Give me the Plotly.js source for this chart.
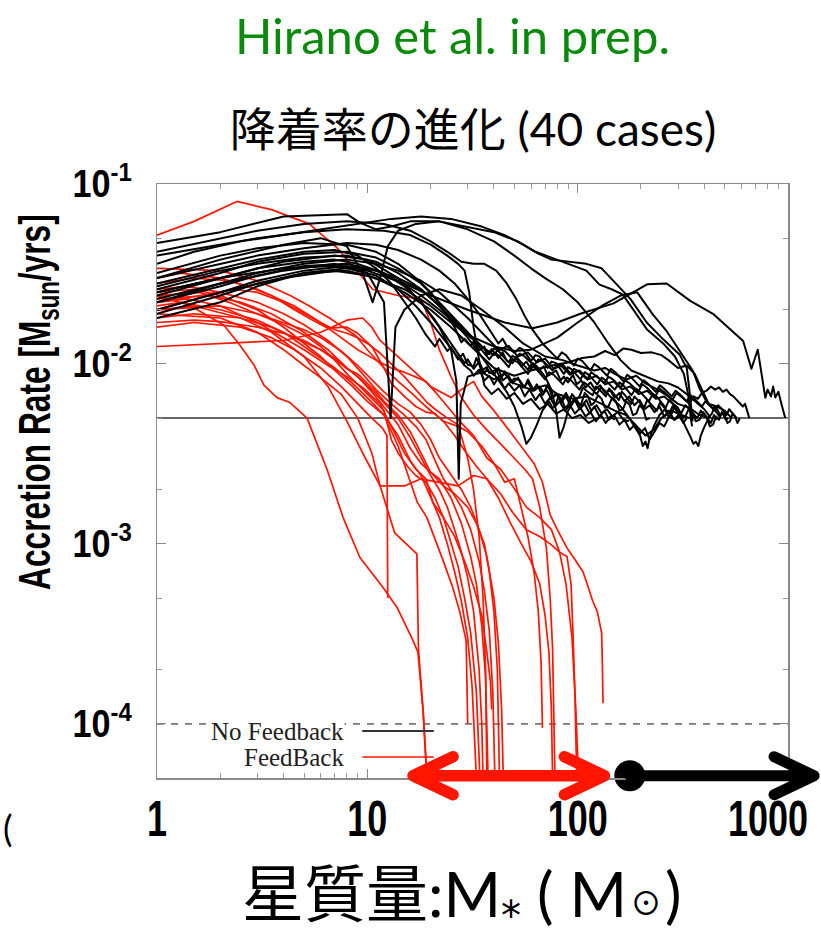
<!DOCTYPE html>
<html>
<head>
<meta charset="utf-8">
<script src="https://cdn.plot.ly/plotly-3.0.1.min.js"></script>
<style>
  html, body { margin: 0; padding: 0; background: #ffffff; }
  #chart { width: 821px; height: 931px; }
</style>
</head>
<body>
<div id="chart"></div>
<script>
// ---------------- data ----------------
// Each run: list of [stellar mass (Msun), accretion rate (Msun/yr)]
const noFeedbackRuns = [
  [[1,0.036],[1.5,0.042],[2.5,0.048],[4,0.052],[6,0.056],[9,0.06],[13,0.064],[18,0.066],[25,0.064],[35,0.058],[45,0.052],[55,0.046],[65,0.041],[75,0.038],[90,0.037],[110,0.036],[130,0.034],[148,0.029],[178,0.023],[213,0.017],[255,0.0137],[305,0.0113],[330,0.0095],[340,0.0071],[347,0.0055],[352,0.0048]],
  [[1,0.047],[2,0.054],[4,0.066],[8,0.068],[9.2,0.061],[11,0.056],[13,0.058],[16,0.062],[22,0.062],[30,0.058],[40,0.054],[52,0.048],[63,0.042],[75,0.039],[90,0.036],[110,0.033],[127,0.0276],[145,0.026],[164,0.0243],[190,0.019],[213,0.0156],[255,0.013],[290,0.011],[320,0.0088],[335,0.0068],[345,0.005],[350,0.0045]],
  [[1,0.03],[2,0.038],[4,0.046],[6,0.05],[8,0.045],[9.5,0.032],[10.6,0.022],[11.5,0.03],[12.5,0.045],[14,0.055],[17,0.06],[22,0.062],[30,0.056],[40,0.048],[50,0.04],[60,0.034],[70,0.03],[85,0.026],[100,0.022],[120,0.017],[140,0.013],[160,0.0105],[180,0.0092],[210,0.0085],[240,0.008],[270,0.0078],[300,0.0074],[330,0.0068],[360,0.0062],[400,0.0056],[430,0.005]],
  [[1,0.022],[2,0.028],[4,0.033],[7,0.036],[10,0.032],[12,0.022],[12.9,0.005],[13.6,0.016],[15,0.02],[18,0.024],[22,0.026],[28,0.024],[35,0.02],[45,0.016],[55,0.013],[70,0.011],[85,0.0105],[100,0.0098],[120,0.0092],[135,0.0095],[150,0.0088],[170,0.0082],[190,0.0086],[210,0.0078],[240,0.0072],[270,0.0066],[300,0.006],[340,0.0057],[380,0.0052],[420,0.005]],
  [[1,0.025],[2,0.03],[4,0.037],[7,0.04],[10,0.038],[14,0.03],[18,0.022],[22,0.016],[25,0.012],[26.5,0.008],[27.2,0.0023],[27.8,0.006],[30,0.0085],[35,0.009],[40,0.0082],[45,0.0088],[50,0.0078],[60,0.0072],[70,0.0076],[80,0.0068],[95,0.0064],[110,0.0066],[130,0.006],[150,0.0055],[170,0.0052],[190,0.0045],[210,0.004],[230,0.0043],[250,0.005],[280,0.0055],[310,0.0052],[340,0.005]],
  [[1,0.025],[2,0.03],[4,0.034],[7,0.035],[10,0.033],[15,0.028],[20,0.024],[30,0.02],[45,0.017],[61,0.0158],[80,0.017],[103,0.019],[148,0.0217],[214,0.0277],[265,0.028],[343,0.0224],[440,0.019],[513,0.0162],[612,0.0134],[670,0.0094],[718,0.012],[780,0.0065],[800,0.0072],[830,0.0066],[850,0.0075],[870,0.0065],[900,0.007],[930,0.006],[970,0.005]],
  [[1,0.02],[2,0.025],[4,0.03],[7,0.033],[10,0.031],[15,0.026],[20,0.021],[25,0.017],[30,0.0145],[40,0.0125],[50,0.0118],[60,0.012],[80,0.014],[100,0.017],[130,0.021],[160,0.024],[192,0.025],[228,0.0188],[265,0.0152],[305,0.0118],[354,0.0091],[380,0.0073],[415,0.006],[450,0.0055],[480,0.005]],
  [[1,0.018],[2,0.022],[3,0.027],[5,0.032],[8,0.033],[11,0.03],[15,0.025],[20,0.02],[25,0.016],[30,0.013],[35,0.011],[40,0.0095],[50,0.0086],[60,0.0092],[75,0.0098],[90,0.0102],[105,0.0108],[120,0.011],[135,0.0118],[150,0.0112],[165,0.0122],[180,0.012],[200,0.0115],[225,0.0116],[250,0.0112],[270,0.0105],[300,0.0095],[330,0.0098],[360,0.0088],[390,0.0072],[420,0.006],[460,0.0058],[500,0.0055],[540,0.005]],
  [[1,0.028],[2,0.034],[3,0.038],[5,0.042],[7,0.043],[9,0.04],[11,0.034],[13,0.028],[15,0.022],[17,0.018],[19,0.0145],[21,0.0125],[22,0.0138],[24,0.0118],[25,0.0124],[27,0.0106],[28.5,0.0114],[30,0.0099],[32,0.0097],[33,0.0108],[35,0.0092],[37,0.0096],[38,0.0089],[41,0.0093],[43,0.0082],[45,0.0091],[48,0.0079],[50,0.0083],[53,0.0081],[56,0.0074],[58,0.0082],[62,0.0071],[66,0.0075],[69,0.0069],[72,0.0077],[76,0.0065],[80,0.0068],[83,0.0062],[88,0.0069],[93,0.0061],[98,0.0064],[104,0.0058],[110,0.0063],[116,0.0055],[123,0.0059],[130,0.0053],[138,0.0056],[146,0.0051],[155,0.0054],[165,0.0049],[175,0.0048]],
  [[1,0.032],[2,0.04],[3,0.044],[5,0.047],[8,0.046],[11,0.042],[14,0.036],[17,0.03],[20,0.025],[23,0.02],[26,0.016],[28,0.0132],[29,0.0138],[31,0.0126],[32,0.0133],[34,0.0119],[36,0.0125],[37,0.0112],[39,0.0121],[42,0.0108],[44,0.0116],[46,0.0104],[49,0.0101],[51,0.0109],[54,0.0097],[57,0.0103],[60,0.0094],[62,0.0099],[65,0.0091],[69,0.0097],[72,0.0086],[75,0.0088],[79,0.0092],[83,0.0081],[86,0.0085],[90,0.0079],[95,0.0087],[99,0.0077],[104,0.0081],[109,0.0074],[115,0.0079],[121,0.0072],[128,0.0076],[135,0.0069],[142,0.0072],[150,0.0065],[158,0.0069],[167,0.0062],[176,0.0066],[186,0.0059],[197,0.0063],[208,0.0056],[220,0.0059],[232,0.0054],[245,0.0058],[258,0.0051],[272,0.0055],[287,0.0049],[302,0.0052],[318,0.0047],[330,0.005]],
  [[1,0.024],[2,0.03],[3,0.034],[5,0.037],[7,0.038],[9,0.036],[12,0.032],[15,0.027],[18,0.022],[21,0.0175],[24,0.014],[27,0.0115],[29,0.0101],[30,0.0106],[32,0.0094],[34,0.0103],[36,0.0089],[37,0.0093],[40,0.0087],[42,0.0095],[44,0.0081],[47,0.0086],[49,0.0078],[52,0.0084],[55,0.0074],[58,0.0079],[61,0.0071],[64,0.0077],[68,0.0067],[71,0.0072],[75,0.0064],[79,0.0069],[83,0.0061],[88,0.0066],[92,0.0059],[97,0.0063],[102,0.0056],[108,0.006],[114,0.0053],[120,0.0058],[127,0.0051],[134,0.0055],[141,0.0049],[149,0.0052],[158,0.0046],[167,0.0049],[177,0.0043],[187,0.0046],[198,0.0041],[209,0.0044],[220,0.0038],[232,0.0042],[245,0.0047],[258,0.0045],[272,0.0051],[290,0.0049],[310,0.0052],[320,0.005]],
  [[1,0.03],[2,0.036],[3,0.04],[5,0.044],[8,0.047],[11,0.046],[14,0.043],[18,0.038],[22,0.033],[26,0.028],[30,0.023],[34,0.019],[38,0.0155],[42,0.013],[44,0.0138],[46,0.0126],[50,0.0115],[53,0.0123],[55,0.012],[60,0.0104],[63,0.0112],[66,0.011],[72,0.0095],[75,0.0103],[79,0.0101],[86,0.0088],[90,0.0096],[94,0.0093],[103,0.0082],[108,0.009],[113,0.0087],[124,0.0077],[130,0.0084],[136,0.0081],[150,0.0072],[158,0.0079],[165,0.0076],[180,0.0067],[189,0.0073],[198,0.007],[218,0.0062],[228,0.0068],[240,0.0065],[262,0.0057],[272,0.0063],[285,0.006],[310,0.0053],[325,0.0059],[340,0.0056],[370,0.005],[385,0.0055],[400,0.0052],[430,0.0047],[445,0.0052],[460,0.0049]],
  [[1,0.019],[2,0.024],[3,0.028],[5,0.032],[8,0.034],[11,0.031],[14,0.026],[17,0.021],[20,0.017],[23,0.0138],[26,0.0115],[29,0.0098],[31,0.0092],[32,0.0086],[34,0.0093],[36,0.0081],[38,0.0086],[40,0.0077],[42,0.0084],[45,0.0073],[47,0.0078],[50,0.0071],[53,0.0076],[56,0.0066],[59,0.0072],[63,0.0063],[66,0.0068],[70,0.006],[74,0.0065],[78,0.0058],[82,0.0062],[87,0.0055],[92,0.0059],[97,0.0053],[103,0.0057],[109,0.0051],[115,0.0054],[122,0.0048],[129,0.0052],[136,0.0047],[143,0.0051],[150,0.0049]],
  [[1,0.026],[2,0.032],[3,0.037],[5,0.041],[8,0.042],[11,0.039],[14,0.034],[18,0.028],[22,0.022],[26,0.018],[30,0.015],[34,0.0125],[38,0.0106],[40,0.0115],[42,0.0112],[47,0.0096],[49,0.0106],[52,0.0102],[58,0.0088],[61,0.0097],[64,0.0093],[70,0.0082],[73,0.009],[77,0.0087],[85,0.0077],[89,0.0084],[93,0.0081],[102,0.0072],[107,0.0079],[112,0.0076],[123,0.0068],[129,0.0074],[135,0.0071],[148,0.0063],[160,0.0058],[172,0.0052],[185,0.0045],[198,0.004],[204,0.0035],[210,0.0037],[215,0.0034],[220,0.0039],[232,0.0046],[245,0.0052],[260,0.0056],[270,0.0051],[280,0.0053],[290,0.0059],[300,0.0057],[312,0.0052],[325,0.0051],[337,0.0056],[350,0.0054],[365,0.0048],[380,0.0049],[395,0.0054],[410,0.0051],[425,0.0045],[440,0.0046],[455,0.0051],[470,0.0049],[485,0.0054],[500,0.0052],[515,0.0047],[530,0.0048],[545,0.0053],[560,0.0051],[575,0.0047],[590,0.005]],
  [[1,0.022],[2,0.027],[3,0.031],[5,0.035],[8,0.036],[11,0.033],[14,0.029],[18,0.024],[22,0.02],[26,0.017],[30,0.0145],[35,0.0125],[40,0.0112],[42,0.0121],[45,0.0118],[50,0.0104],[53,0.0114],[56,0.011],[62,0.0098],[65,0.0106],[69,0.0103],[76,0.0092],[80,0.01],[84,0.0097],[92,0.0087],[96,0.0094],[101,0.0091],[111,0.0082],[116,0.009],[122,0.0086],[134,0.0078],[140,0.0085],[147,0.0082],[161,0.0074],[168,0.0081],[177,0.0078],[194,0.007],[203,0.0077],[213,0.0074],[234,0.0066],[245,0.0073],[257,0.007],[282,0.0063],[295,0.0069],[310,0.0066],[340,0.006],[356,0.0066],[373,0.0064],[390,0.0069],[410,0.0071],[430,0.0075],[450,0.0072],[470,0.0074],[490,0.007],[510,0.0072],[530,0.0068],[550,0.0066],[570,0.0063],[590,0.0061],[610,0.0058],[625,0.006],[640,0.0055],[655,0.005]],
  [[1,0.02],[2,0.025],[3,0.029],[5,0.033],[8,0.035],[11,0.033],[14,0.03],[18,0.026],[22,0.021],[26,0.017],[30,0.014],[34,0.0115],[38,0.0096],[42,0.0082],[46,0.007],[50,0.0058],[54,0.0045],[57,0.0036],[60,0.0039],[64,0.0046],[68,0.0055],[73,0.0062],[76,0.0057],[78,0.0058],[81,0.0066],[84,0.0064],[87,0.0057],[90,0.0059],[94,0.0068],[97,0.0065],[101,0.0058],[104,0.006],[108,0.0069],[112,0.0066],[116,0.0059],[120,0.0061],[125,0.0067],[130,0.0064],[135,0.0057],[140,0.0058],[146,0.0065],[152,0.0062],[158,0.0055],[164,0.0056],[170,0.0062],[177,0.0059],[183,0.0052],[190,0.0053],[197,0.0059],[205,0.0056],[212,0.0049],[220,0.005]],
  [[1,0.027],[2,0.033],[3,0.036],[5,0.039],[8,0.04],[11,0.037],[14,0.032],[18,0.026],[22,0.021],[26,0.0175],[30,0.015],[34,0.013],[38,0.0113],[40,0.0122],[42,0.0118],[47,0.0102],[49,0.0111],[52,0.0107],[58,0.0093],[61,0.0101],[64,0.0097],[70,0.0085],[75,0.0072],[79,0.0055],[82,0.0039],[86,0.0045],[90,0.0055],[96,0.0062],[102,0.0066],[106,0.0074],[110,0.0071],[118,0.0067],[122,0.0075],[127,0.0072],[136,0.0066],[141,0.0073],[146,0.007],[157,0.0063],[162,0.007],[168,0.0067],[180,0.006],[186,0.0066],[193,0.0063],[207,0.0057],[214,0.0063],[222,0.006],[238,0.0055],[246,0.0061],[255,0.0058],[273,0.0053],[282,0.0058],[292,0.0056],[312,0.005]],
  [[1,0.023],[2,0.028],[3,0.032],[5,0.036],[8,0.038],[11,0.036],[14,0.033],[18,0.029],[22,0.025],[26,0.021],[30,0.018],[34,0.0155],[38,0.0135],[42,0.012],[47,0.0126],[52,0.011],[58,0.0116],[64,0.0102],[70,0.0107],[77,0.0094],[85,0.0099],[93,0.0088],[102,0.0092],[112,0.0082],[123,0.0086],[135,0.0077],[148,0.008],[162,0.0072],[178,0.0075],[195,0.0068],[214,0.0071],[235,0.0064],[258,0.0066],[283,0.006],[295,0.0055],[305,0.0052],[315,0.0049],[325,0.0045],[335,0.0042],[345,0.0039],[355,0.0036],[365,0.0037],[375,0.0035],[385,0.004],[398,0.0044],[410,0.0047],[422,0.0051],[435,0.0053],[447,0.0058],[460,0.0056],[475,0.0052],[490,0.0053],[505,0.0049],[520,0.005]],
  [[1,0.04],[2,0.046],[3,0.05],[5,0.054],[8,0.056],[12,0.055],[16,0.052],[20,0.046],[24,0.04],[27,0.036],[29,0.033],[30.5,0.025],[32,0.016],[34,0.0105],[36,0.0076],[39,0.0068],[42,0.0073],[46,0.0064],[50,0.0069],[55,0.006],[60,0.0064],[66,0.0056],[72,0.006],[79,0.0053],[86,0.0056],[94,0.005],[103,0.0052],[113,0.0047],[124,0.005]],
  [[1,0.042],[2,0.05],[3,0.055],[5,0.06],[8,0.062],[12,0.06],[16,0.055],[20,0.048],[24,0.042],[28,0.037],[32,0.036],[36,0.036],[41,0.033],[46,0.028],[51,0.023],[56,0.0185],[61,0.0155],[68,0.013],[75,0.0115],[80,0.0107],[84,0.0116],[88,0.0112],[96,0.0098],[100,0.0107],[105,0.0104],[115,0.0092],[120,0.01],[126,0.0096],[138,0.0086],[144,0.0094],[151,0.009],[165,0.008],[172,0.0087],[180,0.0084],[197,0.0075],[206,0.0081],[215,0.0078],[235,0.007],[246,0.0076],[257,0.0073],[280,0.0066],[292,0.0071],[305,0.0068],[330,0.0062],[345,0.0067],[360,0.0064],[390,0.0058],[405,0.0062],[420,0.006],[450,0.0055],[465,0.0059],[480,0.0057],[510,0.0052],[525,0.0056],[540,0.0054],[570,0.005]]
];

const feedbackRuns = [
  [[1,0.024],[1.43,0.0212],[2.08,0.0164],[2.48,0.0127],[2.9,0.0098],[3.23,0.0076],[3.72,0.0065],[4.29,0.0061],[5.17,0.005],[6.43,0.0026],[7.67,0.0014],[9.22,0.00084],[11.9,0.00057],[13.9,0.00044],[16.5,0.00029],[17.4,0.00025],[18.4,0.00012],[19.2,0.00005]],
  [[1,0.016],[1.5,0.017],[2.5,0.016],[3.5,0.014],[4.5,0.012],[6,0.0095],[7.5,0.0075],[9,0.006],[10.5,0.005],[11.8,0.0044],[12.4,0.004],[12.5,0.0005]],
  [[1,0.019],[2,0.018],[3,0.015],[4,0.012],[5,0.0098],[6,0.0084],[7.5,0.0068],[9,0.005],[10.5,0.0032],[11.5,0.0021],[12.8,0.0014],[13.5,0.00115],[15.3,0.001],[17.2,0.00088],[17.5,0.00026],[18.4,0.00012],[19.2,0.00005]],
  [[1,0.025],[1.5,0.026],[2,0.024],[3,0.02],[4,0.016],[5,0.013],[6,0.011],[7,0.0092],[8.5,0.0075],[10,0.0062],[12,0.0052],[14,0.0035],[16,0.0022],[17.3,0.0017],[19.2,0.0014],[20.5,0.00115],[23,0.0008],[25.5,0.00057],[27.5,0.00042],[29.5,0.00029],[30,0.0001]],
  [[1,0.022],[1.4,0.023],[2,0.021],[3,0.017],[4,0.014],[5,0.012],[6.5,0.0098],[8,0.0085],[9.5,0.0074],[11.5,0.006],[13,0.0045],[15,0.0032],[17,0.0026],[19,0.0023],[20.5,0.0017],[22,0.0014],[24,0.001],[26,0.0007],[28,0.00048],[30,0.0003],[31.5,0.00016],[32.5,0.00008],[33,0.00005]],
  [[1,0.024],[1.6,0.025],[2.2,0.022],[3,0.019],[4,0.0165],[5,0.0145],[6,0.0125],[7,0.0105],[8,0.0088],[9.2,0.0075],[10.5,0.0064],[12,0.0055],[13,0.0038],[14,0.0032],[15.5,0.0027],[17,0.0024],[19,0.0022],[21,0.0018],[23,0.0014],[25,0.001],[27,0.00075],[29,0.0005],[31,0.00032],[33,0.00015],[34.3,0.00005]],
  [[1,0.023],[1.8,0.024],[2.5,0.022],[3.5,0.019],[5,0.015],[6.5,0.012],[8,0.0095],[9.5,0.008],[11,0.0068],[12.5,0.0058],[14,0.005],[16,0.0039],[18,0.003],[20,0.0024],[22,0.002],[24,0.0016],[26,0.0012],[28,0.0009],[30,0.00065],[32,0.00042],[34,0.0002],[35,0.0001],[35.5,0.00005]],
  [[1,0.022],[1.6,0.024],[2.3,0.026],[3,0.025],[4,0.022],[5,0.019],[6,0.017],[7,0.0155],[8,0.0148],[9,0.014],[10,0.013],[11.5,0.0115],[13,0.01],[15,0.0085],[17,0.0072],[19,0.0062],[21,0.0056],[24,0.005],[27,0.0046],[30,0.003],[32,0.002],[34,0.0011],[35.5,0.0005],[36.5,0.0002],[37,0.00005]],
  [[1,0.018],[1.5,0.019],[2.5,0.018],[3.5,0.016],[4.5,0.014],[6,0.012],[7.5,0.01],[9,0.0085],[10.5,0.007],[12,0.0058],[14,0.0046],[16,0.0034],[18,0.0028],[20,0.0025],[22,0.0023],[25,0.0018],[28,0.0013],[31,0.00085],[33,0.0006],[35,0.00035],[36.5,0.00018],[37.5,0.00005]],
  [[1,0.021],[1.3,0.022],[2,0.02],[3,0.0175],[4,0.015],[5,0.0125],[6,0.0108],[7,0.0095],[8.5,0.0078],[10,0.0065],[12,0.0052],[14,0.004],[16,0.0029],[18,0.0024],[20.5,0.0017],[23,0.0014],[26,0.0011],[29,0.0008],[32,0.00058],[35,0.0004],[37,0.00025],[38.5,0.00017],[39,0.00012]],
  [[1,0.026],[1.4,0.027],[2,0.025],[3,0.022],[4,0.019],[5,0.0165],[6.5,0.0135],[8,0.011],[9.5,0.0088],[11,0.0072],[13,0.006],[15,0.0052],[17,0.0045],[19,0.0038],[21,0.0029],[23,0.0023],[25,0.002],[28,0.0016],[31,0.0012],[34,0.0008],[36,0.00055],[38,0.00033],[39.5,0.00015],[40.4,0.00005]],
  [[1,0.017],[1.5,0.0175],[2,0.0172],[3,0.016],[4,0.0148],[5,0.0135],[6,0.012],[7,0.0108],[8,0.0094],[9,0.0088],[10,0.0078],[11,0.007],[12,0.0062],[14,0.0052],[16,0.0042],[18,0.0032],[20,0.0025],[23,0.0021],[26,0.0019],[30,0.0016],[33,0.0013],[36,0.001],[38,0.0007],[40,0.00042],[41.5,0.0002],[42.5,0.00005]],
  [[1,0.02],[2,0.021],[3,0.019],[4,0.017],[5,0.0155],[6,0.014],[7.5,0.0118],[9,0.0098],[10.5,0.0082],[12,0.007],[14,0.006],[16,0.0054],[18,0.0046],[20,0.0038],[22,0.003],[25,0.0024],[28,0.002],[31,0.0016],[34,0.0012],[37,0.00085],[40,0.0005],[42,0.00028],[43.5,0.00012],[44.3,0.00005]],
  [[1,0.034],[2,0.033],[3,0.029],[4.3,0.024],[5.3,0.021],[6.6,0.018],[8.8,0.0144],[10,0.012],[12,0.0095],[14,0.008],[16,0.007],[19,0.0058],[23,0.0048],[27,0.0045],[30,0.0042],[35,0.0035],[40,0.0028],[45,0.0022],[50,0.0023],[54,0.0016],[58,0.0011],[62,0.0007],[65,0.00042],[67,0.00022],[68,0.000095]],
  [[1,0.03],[1.3,0.032],[2,0.03],[2.7,0.027],[3.5,0.024],[4.5,0.02],[5.5,0.0175],[6.5,0.0158],[8,0.016],[9,0.0148],[10.5,0.0125],[12,0.0095],[13,0.0078],[15,0.0066],[17,0.0058],[19,0.0054],[21,0.0053],[23,0.0048],[26,0.004],[29,0.0033],[33,0.0027],[37,0.0023],[42,0.0018],[48,0.0013],[54,0.001],[60,0.0008],[66,0.0006],[70,0.0004],[73,0.00025],[75,0.00012],[76,0.00005]],
  [[1,0.02],[1.5,0.021],[2.5,0.018],[3.5,0.015],[5,0.011],[6.5,0.0075],[8,0.0048],[9.5,0.0032],[11.5,0.0021],[15,0.0021],[18,0.0023],[22,0.0022],[27,0.0021],[32,0.0024],[37,0.0023],[43,0.0019],[49,0.0015],[57,0.0012],[66,0.0011],[74,0.001],[82,0.0009],[89,0.00085],[93,0.0006],[95,0.00032],[97,0.00015],[99,0.00005]],
  [[1,0.028],[1.5,0.03],[2.2,0.029],[3,0.026],[4.5,0.021],[6,0.017],[7.5,0.014],[9,0.012],[11,0.0105],[13,0.0095],[15,0.009],[17,0.0085],[19,0.008],[21,0.007],[24,0.0058],[27.5,0.0048],[32,0.004],[37,0.003],[43,0.0026],[49,0.0021],[57,0.0016],[66,0.0014],[75,0.0012],[82,0.0009],[88,0.0006],[94,0.0003],[98,0.00012],[101,0.00005]],
  [[1,0.0125],[2,0.013],[4,0.0135],[6,0.015],[8,0.0175],[9.5,0.018],[10.5,0.016],[11.5,0.0135],[13,0.0118],[16,0.0095],[20,0.0075],[25,0.0065],[28,0.0072],[32,0.008],[35,0.0066],[40,0.0055],[45,0.0046],[50,0.0039],[56,0.0033],[62,0.0028],[68,0.0022],[74,0.00145],[80,0.0012],[89,0.00095],[97,0.00082],[106,0.0007],[112,0.00058],[118,0.00048],[124,0.00042],[130,0.00032],[131,0.00022],[132,0.00013]],
  [[1,0.052],[1.5,0.062],[2.4,0.08],[3.5,0.072],[5.3,0.06],[7.2,0.044],[9.2,0.0315],[10.6,0.026],[14,0.024],[18,0.023],[20,0.017],[22,0.012],[25,0.0085],[28,0.0065],[32,0.0052],[37,0.0043],[43,0.0036],[50,0.003],[56,0.0026],[61,0.0023],[66,0.0016],[71,0.00095],[74,0.0005],[76,0.00026],[77,0.00012],[78,0.00005]]
];

const referenceRates = [5e-3, 1e-4];          // solid and dashed horizontal reference levels
const massRange = [1, 1000];
const rateRange = [5e-5, 1e-1];
const massTicks = [1, 10, 100, 1000];
const massTickText = ['1', '10', '100', '1000'];
const rateTicks = [1e-1, 1e-2, 1e-3, 1e-4];
const rateTickText = ['10<sup>-1</sup>', '10<sup>-2</sup>', '10<sup>-3</sup>', '10<sup>-4</sup>'];
const feedbackMassRange = [16.5, 134];        // red double arrow (mass range reached with feedback)
const noFeedbackMassRange = [177, 1330];      // black dot + arrow (without feedback)
const arrowRate = 5.15e-5;
const legendLabels = ['No Feedback', 'FeedBack'];

// ---------------- layout helpers ----------------
const W = 821, H = 931;
const M = { l: 157, r: 33, t: 184, b: 153 };
const plotW = W - M.l - M.r, plotH = H - M.t - M.b;
const lx0 = Math.log10(massRange[0]), lx1 = Math.log10(massRange[1]);
const ly0 = Math.log10(rateRange[0]), ly1 = Math.log10(rateRange[1]);
const mToP = m => (Math.log10(m) - lx0) / (lx1 - lx0);   // same mapping as the log x axis
const rToP = r => (Math.log10(r) - ly0) / (ly1 - ly0);   // same mapping as the log y axis
const px2xp = px => (px - M.l) / plotW;
const py2yp = py => (H - M.b - py) / plotH;

const AXIS_FONT = '"Liberation Sans", Arial, Helvetica, sans-serif';
const BLACK = '#000000', RED = '#ff1500';
const traces = [];

function runTrace(run, color, width) {
  return {
    type: 'scatter', mode: 'lines',
    x: run.map(p => p[0]), y: run.map(p => p[1]),
    line: { color: color, width: width },
    hoverinfo: 'skip', showlegend: false
  };
}

traces.push({ type: 'scatter', mode: 'lines', x: massRange, y: [referenceRates[0], referenceRates[0]],
  line: { color: '#666666', width: 2 }, hoverinfo: 'skip', showlegend: false });
traces.push({ type: 'scatter', mode: 'lines', x: massRange, y: [referenceRates[1], referenceRates[1]],
  line: { color: '#777777', width: 1.6, dash: '7px,7px' }, hoverinfo: 'skip', showlegend: false });

feedbackRuns.forEach(r => traces.push(runTrace(r, RED, 1.7)));
noFeedbackRuns.forEach(r => traces.push(runTrace(r, BLACK, 2)));

traces.push({ type: 'scatter', mode: 'markers', x: [noFeedbackMassRange[0]], y: [arrowRate], cliponaxis: false,
  marker: { color: BLACK, size: 31 }, hoverinfo: 'skip', showlegend: false });

// arrows as paper-space shapes (not clipped by the plot area); ends come from the mass ranges
const armX = 40 / plotW, armY = 19 / plotH;
function arrowPath(m0, m1, doubleHead) {
  const x0 = mToP(m0), x1 = mToP(m1), y = rToP(arrowRate);
  let p = '';
  if (doubleHead) p += `M${x0 + armX},${y + armY} L${x0},${y} L${x0 + armX},${y - armY} `;
  p += `M${x0},${y} L${x1},${y} `;
  p += `M${x1 - armX},${y + armY} L${x1},${y} L${x1 - armX},${y - armY}`;
  return p;
}
const legendY = [py2yp(731), py2yp(757)];
const shapes = [
  { type: 'path', xref: 'paper', yref: 'paper', path: arrowPath(feedbackMassRange[0], feedbackMassRange[1], true),
    line: { color: RED, width: 11.5 }, layer: 'above' },
  { type: 'path', xref: 'paper', yref: 'paper', path: arrowPath(noFeedbackMassRange[0], noFeedbackMassRange[1], false),
    line: { color: BLACK, width: 11 }, layer: 'above' },
  { type: 'line', xref: 'paper', yref: 'paper', x0: px2xp(363), x1: px2xp(433), y0: legendY[0], y1: legendY[0],
    line: { color: '#333', width: 2.2 } },
  { type: 'line', xref: 'paper', yref: 'paper', x0: px2xp(363), x1: px2xp(433), y0: legendY[1], y1: legendY[1],
    line: { color: RED, width: 1.7 } }
];

const TITLE_FONT = 'Lato, "Noto Sans CJK JP", "DejaVu Sans", sans-serif';
const annotations = [
  { xref: 'paper', yref: 'paper', x: px2xp(452), y: py2yp(35), xanchor: 'center', yanchor: 'middle',
    text: 'Hirano et al. in prep.', showarrow: false,
    font: { family: 'Lato, "Open Sans", sans-serif', size: 49, color: '#0a8a0a' } },
  { xref: 'paper', yref: 'paper', x: px2xp(38), y: py2yp(402), xanchor: 'center', yanchor: 'middle',
    textangle: -90, text: 'Accretion Rate [M<sub>sun</sub>/yrs]', showarrow: false,
    font: { family: AXIS_FONT, size: 44, color: '#000', weight: 'bold' } },
  { xref: 'paper', yref: 'paper', x: px2xp(462), y: py2yp(893), xanchor: 'center', yanchor: 'middle',
    text: '星質量:M<span style="font-size:40px">\u204E</span> ( M<span style="font-size:38px">☉</span>)', showarrow: false,
    font: { family: TITLE_FONT, size: 62, color: '#000' } },
  { xref: 'paper', yref: 'paper', x: px2xp(345), y: legendY[0], xanchor: 'right', yanchor: 'middle',
    text: legendLabels[0], showarrow: false, bgcolor: '#ffffff', borderpad: 0,
    font: { family: '"Liberation Serif", "Times New Roman", serif', size: 25, color: '#222' } },
  { xref: 'paper', yref: 'paper', x: px2xp(345), y: legendY[1], xanchor: 'right', yanchor: 'middle',
    text: legendLabels[1], showarrow: false, bgcolor: '#ffffff', borderpad: 0,
    font: { family: '"Liberation Serif", "Times New Roman", serif', size: 25, color: '#222' } },
  { xref: 'paper', yref: 'paper', x: px2xp(1), y: py2yp(828), xanchor: 'left', yanchor: 'middle',
    text: '(', showarrow: false, font: { family: 'Lato, sans-serif', size: 36, color: '#000' } }
];

const layout = {
  width: W, height: H,
  margin: { l: M.l, r: M.r, t: M.t, b: M.b, pad: 0 },
  paper_bgcolor: '#ffffff', plot_bgcolor: '#ffffff',
  showlegend: false,
  title: {
    text: '降着率の進化 (40 cases)',
    x: 473 / W, xref: 'container', xanchor: 'center',
    y: 1 - 130 / H, yref: 'container', yanchor: 'middle',
    font: { family: TITLE_FONT, size: 46, color: '#000' }
  },
  xaxis: {
    type: 'log', range: [lx0, lx1],
    tickmode: 'array', tickvals: massTicks, ticktext: massTickText,
    ticks: 'inside', ticklen: 9, tickwidth: 1, tickcolor: '#888',
    minor: { ticks: 'inside', ticklen: 5, tickwidth: 1, tickcolor: '#999', dtick: 'D1', showgrid: false },
    showline: true, linecolor: '#8a8a8a', linewidth: 1.5, mirror: 'ticks',
    showgrid: false, zeroline: false,
    tickfont: { family: AXIS_FONT, size: 50, color: '#000', weight: 'bold' },
    ticklabelstandoff: 1, ticklabeloverflow: 'allow'
  },
  yaxis: {
    type: 'log', range: [ly0, ly1],
    tickmode: 'array', tickvals: rateTicks, ticktext: rateTickText,
    ticks: 'inside', ticklen: 9, tickwidth: 1, tickcolor: '#888',
    minor: { ticks: 'inside', ticklen: 5, tickwidth: 1, tickcolor: '#999', dtick: 'D2', showgrid: false },
    showline: true, linecolor: '#8a8a8a', linewidth: 1.5, mirror: 'ticks',
    showgrid: false, zeroline: false,
    tickfont: { family: AXIS_FONT, size: 38, color: '#000', weight: 'bold' },
    ticklabelstandoff: 16, ticklabeloverflow: 'allow'
  },
  annotations: annotations,
  shapes: shapes
};

// condensed look of the original (gnuplot) lettering: squeeze text horizontally about its anchor
function squeezeAt(t, ax, sx, pre) {
  const tr = t.getAttribute('transform') || '';
  t.setAttribute('transform', (pre || '') + tr + ` translate(${ax},0) scale(${sx},1) translate(${-ax},0)`);
}

Plotly.newPlot('chart', traces, layout, { staticPlot: true, displayModeBar: false }).then(gd => {
  gd.querySelectorAll('.scatterlayer .trace path.js-line').forEach(p => { p.style.strokeLinejoin = 'round'; });
  gd.querySelectorAll('.shapelayer path').forEach(p => {
    p.style.strokeLinecap = 'round'; p.style.strokeLinejoin = 'round';
  });
  gd.querySelectorAll('.xtick text').forEach(t => {
    const last = t.textContent === massTickText[massTickText.length - 1];
    squeezeAt(t, parseFloat(t.getAttribute('x')) || 0, 0.72, last ? 'translate(-20,-4) ' : 'translate(0,-4) ');
  });
  gd.querySelectorAll('.ytick text').forEach(t => squeezeAt(t, parseFloat(t.getAttribute('x')) || 0, 0.9));
  const ann = gd.querySelectorAll('.annotation .annotation-text');
  if (ann[1]) {
    const bb = ann[1].getBBox();
    squeezeAt(ann[1], bb.x + bb.width / 2, 0.72);
  }
});
</script>
</body>
</html>
